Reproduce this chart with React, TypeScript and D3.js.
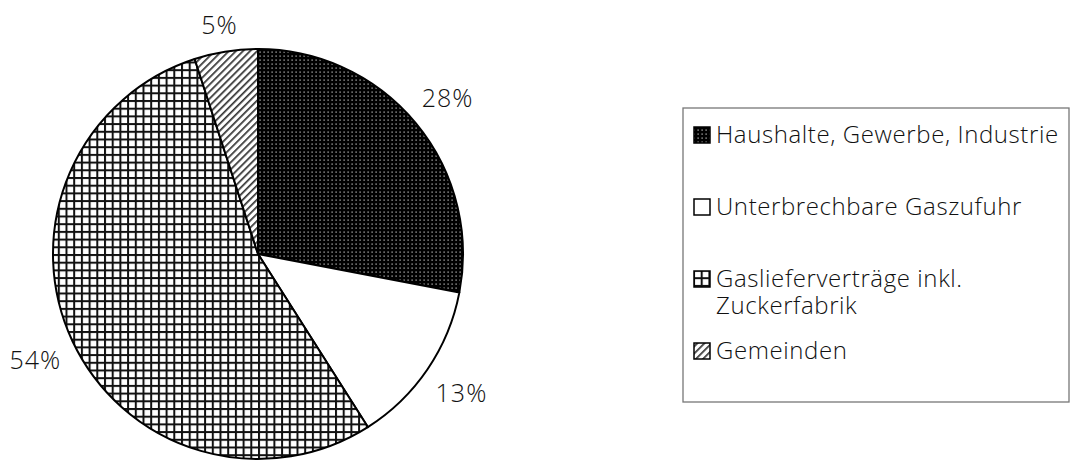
import React from "react";
import * as d3 from "d3";

const categories = [
  "Haushalte, Gewerbe, Industrie",
  "Unterbrechbare Gaszufuhr",
  "Gaslieferverträge inkl. Zuckerfabrik",
  "Gemeinden",
];
const legendLines = [
  ["Haushalte, Gewerbe, Industrie"],
  ["Unterbrechbare Gaszufuhr"],
  ["Gaslieferverträge inkl.", "Zuckerfabrik"],
  ["Gemeinden"],
];
const values = [28, 13, 54, 5];
const labels = ["28%", "13%", "54%", "5%"];
const fills = ["url(#dots)", "#ffffff", "url(#grid)", "url(#hatch)"];

const W = 1071;
const H = 461;
const cx = 258;
const cy = 254;
const R = 205;
const FONT = "'Open Sans', 'Noto Sans', sans-serif";

export default function App() {
  const pie = d3.pie<number>().sort(null).startAngle(0).endAngle(2 * Math.PI);
  const arcs = pie(values);
  const arc = d3.arc<d3.PieArcDatum<number>>().innerRadius(0).outerRadius(R);
  const labelArc = d3.arc<d3.PieArcDatum<number>>().innerRadius(R * 1.2).outerRadius(R * 1.2);

  const legendX = 683;
  const legendY = 108;
  const legendW = 386;
  const legendH = 294;
  const rowBase = [143, 215, 287, 359];

  return (
    <svg width={W} height={H} style={{ position: "absolute", left: 0, top: 0 }} fontFamily={FONT}>
      <defs>
        <pattern id="dots" width="4" height="4" patternUnits="userSpaceOnUse">
          <rect width="4" height="4" fill="#000" />
          <rect x="1.5" y="1.5" width="1.2" height="1.2" fill="#d0d0d0" />
        </pattern>
        <pattern id="grid" width="7.7" height="7.7" patternUnits="userSpaceOnUse">
          <rect width="7.7" height="7.7" fill="#fff" />
          <rect x="0" y="0" width="7.7" height="2" fill="#111" />
          <rect x="0" y="0" width="2" height="7.7" fill="#111" />
        </pattern>
        <pattern id="hatch" width="5" height="5" patternUnits="userSpaceOnUse" patternTransform="rotate(45)">
          <rect width="5" height="5" fill="#fff" />
          <rect x="0" y="0" width="1.7" height="5" fill="#333" />
        </pattern>
      </defs>
      <rect width={W} height={H} fill="#fff" />
      <g transform={`translate(${cx},${cy})`}>
        {arcs.map((a, i) => (
          <path key={i} d={arc(a) || ""} fill={fills[i]} stroke="#000" strokeWidth={2} strokeLinejoin="round" />
        ))}
        {arcs.map((a, i) => {
          const [x, y] = labelArc.centroid(a);
          const yy = Math.max(y, 24 - cy);
          return (
            <text key={"l" + i} x={x} y={yy} textAnchor="middle" dominantBaseline="central" fontSize={25} fontWeight={300} letterSpacing={1} fill="#111">
              {labels[i]}
            </text>
          );
        })}
      </g>
      <rect x={legendX} y={legendY} width={legendW} height={legendH} fill="#fff" stroke="#777" strokeWidth={1.3} />
      {categories.map((c, i) => (
        <g key={c}>
          <rect x={694} y={rowBase[i] - 16} width={16} height={16} fill={fills[i]} stroke="#000" strokeWidth={1.5} />
          <text x={716} y={rowBase[i]} fontSize={24} fontWeight={300} letterSpacing={0.6} fill="#111">
            {legendLines[i].map((ln, j) => (
              <tspan key={j} x={716} dy={j === 0 ? 0 : 27}>
                {ln}
              </tspan>
            ))}
          </text>
        </g>
      ))}
    </svg>
  );
}
